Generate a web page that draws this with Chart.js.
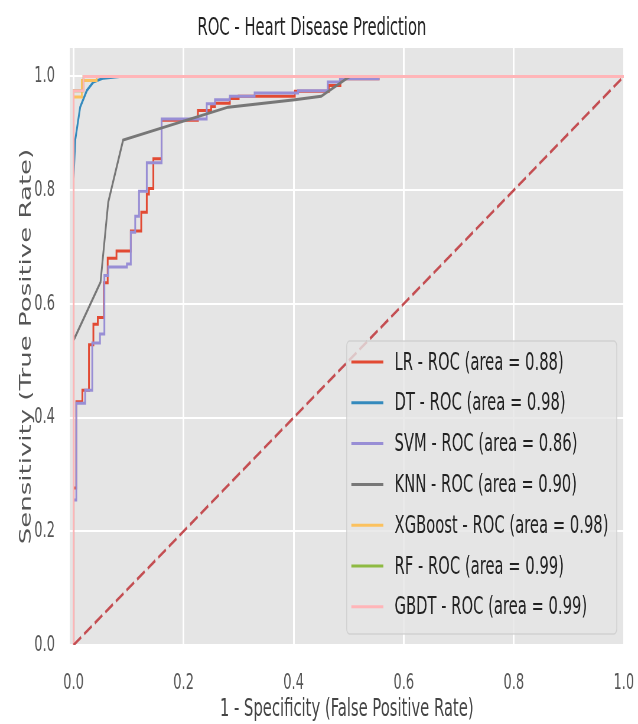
<!DOCTYPE html>
<html>
<head>
<meta charset="utf-8">
<script src="https://cdn.jsdelivr.net/npm/chart.js@4"></script>
<style>
  html, body { margin: 0; padding: 0; background: #fff; overflow: hidden; }
  #wrap { width: 638px; height: 724px; overflow: hidden; }
  /* the source picture is squeezed sideways, so the chart is drawn wide and squeezed the same way */
  #roc { display: block; transform: scaleX(0.59074); transform-origin: 0 0; }
</style>
</head>
<body>
<div id="wrap"><canvas id="roc" width="1080" height="724"></canvas></div>
<script>
const modelNames = ['LR', 'DT', 'SVM', 'KNN', 'XGBoost', 'RF', 'GBDT'];
const modelAuc = [0.88, 0.98, 0.86, 0.90, 0.98, 0.99, 0.99];

// false positive rate / true positive rate
const lrFpr = [0, 0, 0.005, 0.005, 0.016, 0.016, 0.028, 0.028, 0.036, 0.036, 0.044, 0.044, 0.055, 0.055, 0.062, 0.062, 0.078, 0.078, 0.104, 0.104, 0.123, 0.123, 0.133, 0.133, 0.137, 0.137, 0.145, 0.145, 0.160, 0.160, 0.226, 0.226, 0.250, 0.250, 0.257, 0.257, 0.284, 0.284, 0.300, 0.300, 0.402, 0.402, 0.464, 0.464, 0.485, 0.485, 0.556];
const lrTpr = [0, 0.276, 0.276, 0.428, 0.428, 0.448, 0.448, 0.528, 0.528, 0.564, 0.564, 0.576, 0.576, 0.637, 0.637, 0.680, 0.680, 0.693, 0.693, 0.728, 0.728, 0.761, 0.761, 0.793, 0.793, 0.803, 0.803, 0.855, 0.855, 0.923, 0.923, 0.940, 0.940, 0.947, 0.947, 0.953, 0.953, 0.961, 0.961, 0.965, 0.965, 0.974, 0.974, 0.984, 0.984, 0.996, 0.996];

const dtFpr = [0, 0, 0.003, 0.012, 0.024, 0.036, 0.054, 0.084, 1];
const dtTpr = [0, 0.82, 0.888, 0.946, 0.975, 0.990, 0.997, 1, 1];

const svmFpr = [0, 0, 0.005, 0.005, 0.021, 0.021, 0.034, 0.034, 0.048, 0.048, 0.056, 0.056, 0.063, 0.063, 0.097, 0.097, 0.104, 0.104, 0.112, 0.112, 0.119, 0.119, 0.133, 0.133, 0.160, 0.160, 0.242, 0.242, 0.257, 0.257, 0.284, 0.284, 0.329, 0.329, 0.408, 0.408, 0.462, 0.462, 0.484, 0.484, 0.556];
const svmTpr = [0, 0.255, 0.255, 0.425, 0.425, 0.448, 0.448, 0.531, 0.531, 0.547, 0.547, 0.650, 0.650, 0.665, 0.665, 0.670, 0.670, 0.726, 0.726, 0.754, 0.754, 0.798, 0.798, 0.848, 0.848, 0.925, 0.925, 0.952, 0.952, 0.959, 0.959, 0.965, 0.965, 0.971, 0.971, 0.975, 0.975, 0.990, 0.990, 0.996, 0.996];

const knnFpr = [0, 0, 0.049, 0.063, 0.090, 0.281, 0.402, 0.450, 0.496, 0.503, 1];
const knnTpr = [0, 0.536, 0.638, 0.779, 0.888, 0.946, 0.959, 0.965, 0.996, 1, 1];

const xgbFpr = [0, 0, 0.015, 0.015, 0.042, 0.042, 1];
const xgbTpr = [0, 0.964, 0.964, 0.993, 0.993, 1, 1];

const rfFpr = [0, 0, 0.018, 0.018, 1];
const rfTpr = [0, 0.975, 0.975, 1, 1];

const gbdtFpr = [0, 0, 0.018, 0.018, 1];
const gbdtTpr = [0, 0.975, 0.975, 1, 1];

const chanceFpr = [0, 1];
const chanceTpr = [0, 1];

const xTicks = [0, 0.2, 0.4, 0.6, 0.8, 1.0];
const yTicks = [0, 0.2, 0.4, 0.6, 0.8, 1.0];

const curves = [
  [lrFpr, lrTpr], [dtFpr, dtTpr], [svmFpr, svmTpr], [knnFpr, knnTpr],
  [xgbFpr, xgbTpr], [rfFpr, rfTpr], [gbdtFpr, gbdtTpr]
];
const colors = ['#E24A33', '#348ABD', '#988ED5', '#777777', '#FBC15E', '#8EBA42', '#FFB5B8'];

const toPoints = (xs, ys) => xs.map((x, i) => ({ x: x, y: ys[i] }));
const legendText = i => modelNames[i] + ' - ROC (area = ' + modelAuc[i].toFixed(2) + ')';

const FONT = '"DejaVu Sans", sans-serif';

const datasets = curves.map((c, i) => ({
  label: legendText(i),
  data: toPoints(c[0], c[1]),
  borderColor: colors[i],
  borderWidth: 3,
  pointRadius: 0,
  showLine: true,
  fill: false,
  tension: 0,
  order: curves.length - i  // later models sit on top, like matplotlib
}));
datasets.push({
  label: 'chance',
  data: toPoints(chanceFpr, chanceTpr),
  borderColor: '#C44E52',
  borderWidth: 3,
  borderDash: [15, 6],
  pointRadius: 0,
  showLine: true,
  fill: false,
  order: 0
});

// gray panel behind the plot
const panel = {
  id: 'panel',
  beforeDraw(chart) {
    const { ctx, chartArea: a } = chart;
    ctx.save();
    ctx.fillStyle = '#E5E5E5';
    ctx.fillRect(a.left, a.top, a.right - a.left, a.bottom - a.top);
    ctx.restore();
  }
};

// legend box in the lower right of the plot
const legendBox = {
  id: 'legendBox',
  afterDatasetsDraw(chart) {
    const { ctx, chartArea: a } = chart;
    ctx.save();
    ctx.font = '25px ' + FONT;
    let maxW = 0;
    modelNames.forEach((n, i) => { maxW = Math.max(maxW, ctx.measureText(legendText(i)).width); });
    const padL = 8, sample = 54, gap = 19, padR = 14;
    const w = padL + sample + gap + maxW + padR;
    const h = 293;
    const right = a.right - 12;
    const bottom = a.bottom - 11;
    const left = right - w, top = bottom - h;
    ctx.beginPath();
    ctx.roundRect(left, top, w, h, 5);
    ctx.fillStyle = 'rgba(229,229,229,0.8)';
    ctx.fill();
    ctx.strokeStyle = 'rgba(204,204,204,0.8)';
    ctx.lineWidth = 1.5;
    ctx.stroke();
    const rowH = 40.8;
    modelNames.forEach((n, i) => {
      const y = top + 21 + i * rowH;
      ctx.beginPath();
      ctx.moveTo(left + padL, y);
      ctx.lineTo(left + padL + sample, y);
      ctx.strokeStyle = colors[i];
      ctx.lineWidth = 3;
      ctx.stroke();
      ctx.fillStyle = '#222';
      ctx.textBaseline = 'middle';
      ctx.textAlign = 'left';
      ctx.fillText(legendText(i), left + padL + sample + gap, y + 1);
    });
    ctx.restore();
  }
};

new Chart(document.getElementById('roc'), {
  type: 'scatter',
  data: { datasets: datasets },
  plugins: [panel, legendBox],
  options: {
    responsive: false,
    animation: false,
    devicePixelRatio: 1,
    layout: { padding: { left: 0, right: 24, top: 0, bottom: 0 } },
    plugins: {
      legend: { display: false },
      tooltip: { enabled: false },
      title: {
        display: true,
        text: 'ROC - Heart Disease Prediction',
        color: '#222',
        font: { family: FONT, size: 25, weight: 'normal' },
        padding: { top: 13, bottom: 5 }
      }
    },
    scales: {
      x: {
        type: 'linear',
        min: -0.007,
        max: 1.0,
        afterBuildTicks: s => { s.ticks = xTicks.map(v => ({ value: v })); },
        afterFit: s => { s.height = 79; s.paddingLeft = 0; s.paddingRight = 0; },
        border: { display: false },
        grid: { color: '#ffffff', lineWidth: 3, drawTicks: false },
        ticks: {
          color: '#555',
          padding: 25,
          maxRotation: 0,
          font: { family: FONT, size: 22 },
          callback: v => v.toFixed(1)
        },
        title: {
          display: true,
          text: '1 - Specificity (False Positive Rate)',
          color: '#444',
          font: { family: FONT, size: 25 },
          padding: { top: 0, bottom: 0 }
        }
      },
      y: {
        type: 'linear',
        min: 0,
        max: 1.05,
        afterBuildTicks: s => { s.ticks = yTicks.map(v => ({ value: v })); },
        afterFit: s => { s.width = 118; s.paddingTop = 0; s.paddingBottom = 0; },
        border: { display: false },
        grid: { color: '#ffffff', lineWidth: 2, drawTicks: false },
        ticks: {
          color: '#555',
          padding: 25,
          font: { family: FONT, size: 22 },
          callback: v => v.toFixed(1)
        },
        title: {
          display: true,
          text: 'Sensitivity (True Positive Rate)',
          color: '#555',
          font: { family: FONT, size: 26 },
          padding: { top: 30, bottom: 0 }
        }
      }
    }
  }
});
</script>
</body>
</html>
